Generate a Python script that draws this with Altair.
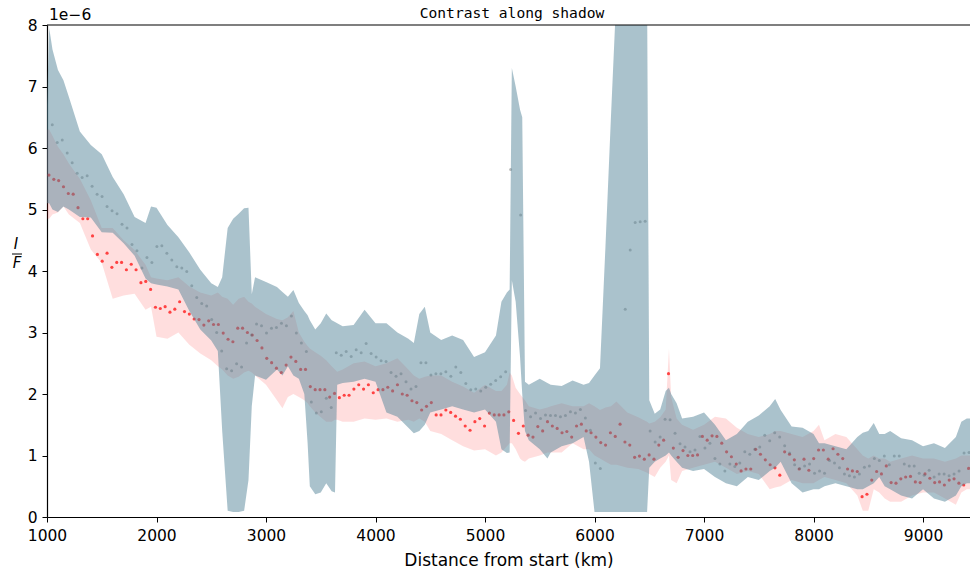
import altair as alt
import pandas as pd
import numpy as np

# ---- mean values (units of 1e-6) ----
red_mean = [5.56,5.49,5.47,5.37,5.26,5.25,5.03,4.85,4.85,4.57,4.27,4.16,4.29,4.06,4.14,4.14,4.02,4.11,4.02,3.81,3.83,3.70,3.41,3.39,3.42,3.33,3.38,3.50,3.34,3.30,3.22,3.21,3.12,
            3.19,3.13,3.13,2.99,2.89,2.85,3.07,3.07,3.00,2.96,2.87,2.75,2.58,2.51,2.42,2.35,2.47,2.60,2.53,2.40,2.40,2.12,2.07,2.07,2.07,1.95,2.01,1.94,1.98,1.98,2.08,2.15,
            2.08,2.15,2.02,2.07,2.07,2.11,2.05,2.15,2.00,1.98,1.89,1.86,1.74,1.80,1.86,1.66,1.66,1.74,1.70,1.64,1.59,1.48,1.41,1.55,1.60,1.48,1.69,1.66,1.66,1.66,1.71,1.57,
            1.36,1.48,1.33,1.30,1.47,1.40,1.55,1.48,1.44,1.37,1.39,1.30,1.48,1.51,1.40,1.37,1.30,1.21,1.17,1.37,1.31,1.51,1.22,1.17,0.97,0.99,0.94,1.01,0.94,1.17,1.25,2.33,
            1.12,0.97,1.08,1.00,1.00,1.01,1.31,1.25,1.32,1.31,1.20,1.06,0.98,0.86,0.75,0.78,0.78,1.10,1.02,0.93,0.85,0.80,0.68,1.06,1.02,0.93,0.78,0.94,0.76,0.95,1.09,1.09,
            0.94,1.11,1.02,0.95,0.78,0.75,0.74,0.33,0.37,0.60,0.74,0.70,0.83,0.56,0.55,0.62,0.65,0.66,0.57,0.56,0.70,0.63,0.56,0.57,0.52,0.60,0.62,0.55,0.52,0.79]

grey_mean = [6.38,6.09,6.13,5.92,5.76,5.59,5.52,5.55,5.38,5.25,5.21,5.05,4.98,4.93,4.76,4.70,4.43,4.33,4.05,4.22,4.14,4.40,4.41,4.29,4.18,4.07,4.05,3.99,3.76,3.57,3.47,
             3.43,3.21,3.00,2.70,2.41,2.38,2.49,2.44,2.83,2.96,3.14,3.11,2.99,3.07,3.08,3.15,3.11,3.27,2.99,2.83,2.69,1.87,1.69,1.71,1.93,1.78,2.67,2.63,2.69,2.61,2.72,
             2.67,2.82,2.66,2.60,2.54,2.53,2.35,2.29,2.33,2.20,2.08,2.12,2.51,2.51,2.31,2.33,2.33,2.36,2.29,2.44,2.35,2.17,2.07,2.08,2.05,2.11,2.16,2.22,2.28,2.36,5.65,
             None,4.91,1.73,1.63,1.69,1.60,1.66,1.65,1.65,1.63,1.65,1.71,1.69,1.75,1.61,1.41,0.88,0.79,None,None,None,None,3.38,4.34,4.79,4.80,4.81,1.40,1.22,1.30,1.59,
             1.58,1.36,1.19,1.14,1.06,1.09,1.31,1.12,1.20,0.95,0.86,0.75,0.86,0.82,0.88,1.06,1.02,1.10,1.14,1.33,1.24,1.37,1.30,1.16,1.04,0.85,0.79,0.83,0.86,0.71,0.75,
             0.71,0.92,0.88,0.80,0.70,0.67,0.65,0.70,0.81,0.83,0.95,0.92,0.99,0.85,0.99,0.99,0.86,0.83,0.83,0.71,0.68,0.76,0.65,0.70,0.70,0.67,0.70,0.75,1.04,1.05]

# ---- band boundaries ----
band_x = [1000,1020,1050,1100,1150,1200,1300,1400,1500,1600,1700,1800,1900,1950,2000,2100,2200,2300,2400,2500,2560,2600,2650,2700,2750,2800,2840,2870,2900,
          3000,3100,3150,3200,3250,3300,3350,3380,3400,3450,3500,3550,3600,3630,3650,3700,3800,3900,4000,4100,4200,4300,4350,4400,4450,4500,4600,4700,4800,4900,
          5000,5100,5150,5200,5225,5245,5280,5320,5340,5365,5400,5500,5570,5600,5700,5800,5900,5950,6000,6050,6100,6150,6200,6300,6400,6480,6500,6550,6600,6650,
          6680,6700,6750,6800,6900,7000,7100,7200,7300,7400,7500,7600,7650,7700,7800,7900,8000,8050,8100,8200,8300,8400,8450,8500,8550,8600,8650,8700,8800,8900,
          9000,9100,9200,9300,9350,9400,9430]
blue_lo = [5.10,5.10,5.00,4.96,5.05,5.00,4.88,4.87,4.63,4.62,4.45,4.25,3.88,3.80,3.78,3.75,3.70,3.35,3.05,2.87,2.70,1.40,0.10,0.08,0.08,0.10,0.60,1.80,2.30,
           2.23,2.40,2.30,2.45,2.30,2.25,2.00,1.20,0.50,0.37,0.40,0.55,0.42,0.40,2.15,2.18,2.20,2.25,2.20,1.70,1.63,1.45,1.36,1.40,1.50,1.70,1.75,1.80,1.75,1.70,
           1.75,1.55,1.10,1.04,1.05,3.85,3.50,2.60,2.00,1.40,1.25,1.10,0.95,1.05,1.15,1.20,1.30,0.90,0.08,0.08,0.08,0.08,0.08,0.08,0.08,0.08,0.80,0.90,0.95,1.00,
           1.05,1.00,0.90,0.80,0.75,0.78,0.65,0.55,0.50,0.65,0.60,0.75,0.80,0.90,0.55,0.40,0.45,0.45,0.50,0.55,0.50,0.45,0.45,0.50,0.55,0.65,0.50,0.45,0.35,0.30,
           0.45,0.30,0.25,0.35,0.50,0.55,0.55]
blue_hi = [6.70,7.95,7.60,7.27,7.10,6.83,6.27,6.05,5.90,5.53,5.25,4.88,4.78,5.05,5.03,4.75,4.55,4.30,4.02,3.80,3.74,3.90,4.70,4.85,4.93,5.02,5.03,3.62,3.90,
           3.82,3.74,3.66,3.58,3.69,3.48,3.35,3.28,3.20,3.05,3.15,3.31,3.20,3.17,3.15,3.10,3.12,3.37,3.15,3.15,3.00,2.90,2.83,3.30,3.42,3.00,2.88,2.95,2.88,2.60,
           2.68,2.95,3.50,3.65,3.70,7.30,7.00,6.62,6.50,2.20,2.15,2.25,2.18,2.15,2.13,2.22,2.15,2.18,2.30,2.42,4.40,6.50,8.50,8.50,8.50,8.50,1.90,1.68,1.75,2.05,
           2.10,2.00,1.85,1.60,1.63,1.70,1.50,1.25,1.35,1.55,1.65,1.80,1.92,1.74,1.47,1.45,1.35,1.20,1.20,1.15,1.10,1.30,1.37,1.40,1.53,1.35,1.35,1.40,1.28,1.25,
           1.15,1.20,1.12,1.30,1.55,1.60,1.60]
red_lo = [4.85,4.85,4.92,4.95,5.05,4.92,4.78,4.35,4.13,3.55,3.60,3.63,3.37,3.42,2.93,2.90,3.00,2.80,2.66,2.55,2.45,2.40,2.30,2.25,2.28,2.35,2.38,2.35,2.30,
          2.15,1.90,1.77,1.95,2.00,1.95,1.90,1.85,1.80,1.70,1.62,1.55,1.55,1.58,1.58,1.55,1.55,1.60,1.58,1.60,1.55,1.58,1.55,1.60,1.55,1.40,1.35,1.25,1.15,1.08,
          1.10,1.00,1.05,1.15,1.20,1.20,1.10,0.95,0.92,0.90,0.95,1.00,1.05,1.05,1.05,1.20,1.10,1.10,1.00,0.95,0.90,0.85,0.85,0.80,0.78,0.72,0.70,0.65,0.80,0.90,
          1.00,0.60,0.55,0.75,0.80,0.85,0.90,0.80,0.70,0.75,0.70,0.45,0.48,0.50,0.60,0.55,0.55,0.60,0.65,0.60,0.55,0.35,0.10,0.10,0.45,0.40,0.30,0.25,0.25,0.35,
          0.40,0.40,0.30,0.20,0.40,0.45,0.45]
red_hi = [6.30,6.30,6.20,6.02,5.90,5.75,5.50,5.15,4.70,4.70,4.50,4.34,4.10,3.90,3.88,3.85,3.90,3.75,3.65,3.60,3.65,3.58,3.55,3.45,3.55,3.58,3.50,3.47,3.42,
          3.30,3.22,3.20,3.25,3.35,3.00,2.85,2.78,2.74,2.68,2.62,2.55,2.45,2.40,2.36,2.40,2.50,2.53,2.45,2.50,2.58,2.40,2.30,2.25,2.28,2.30,2.30,2.20,2.12,2.02,
          2.15,2.05,2.05,2.15,2.35,2.30,2.10,2.00,1.95,1.90,1.80,1.75,1.78,1.80,1.85,1.80,1.80,1.85,1.80,1.74,1.78,1.80,1.88,1.70,1.62,1.55,1.52,1.55,1.62,1.75,
          2.74,1.95,1.60,1.50,1.42,1.50,1.63,1.60,1.45,1.35,1.30,1.35,1.40,1.40,1.35,1.30,1.40,1.50,1.25,1.35,1.30,1.10,1.00,0.95,1.00,0.95,0.95,0.90,0.95,1.00,
          0.95,0.95,0.90,0.95,1.00,1.00,1.00]

x_ticks = [1000,2000,3000,4000,5000,6000,7000,8000,9000]
y_ticks = [0,1,2,3,4,5,6,7,8]

red_df = pd.DataFrame({"x": np.linspace(1018, 9416, len(red_mean)), "y": red_mean})
grey_df = pd.DataFrame({"x": np.linspace(1048, 9420, len(grey_mean)), "y": grey_mean})
band_df = pd.DataFrame({"x": band_x, "blo": blue_lo, "bhi": blue_hi, "rlo": red_lo, "rhi": red_hi})
one = pd.DataFrame({"k": [0]})

W, H = 923, 492
FONT = "DejaVu Sans"
xs = alt.Scale(domain=[1000, 9429], nice=False, zero=False)
ys = alt.Scale(domain=[0, 8], nice=False, zero=False)

xax = alt.Axis(values=x_ticks, format="d", title="Distance from start (km)", grid=False,
               labelFont=FONT, labelFontSize=15.5, labelColor="#000", labelFlush=False,
               labelOverlap=False, titleFont=FONT,
               titleFontSize=17, titleFontWeight="normal", titleColor="#000", tickColor="#000",
               tickSize=5, tickWidth=1, domainColor="#000", domainWidth=1.2, labelPadding=6,
               titlePadding=9)
yax = alt.Axis(values=y_ticks, format="d", title=None, grid=False, labelFont=FONT,
               labelFontSize=15.5, labelColor="#000", labelFlush=False, labelOverlap=False,
               tickColor="#000", tickSize=5, tickWidth=1,
               domainColor="#000", domainWidth=1.2, labelPadding=5)

base = alt.Chart(band_df)
red_band = base.mark_area(color="#ff0000", opacity=0.13, clip=True).encode(
    x=alt.X("x:Q", scale=xs, axis=xax), y=alt.Y("rlo:Q", scale=ys, axis=yax), y2="rhi:Q")
red_pts = alt.Chart(red_df).mark_circle(color="#ff0000", opacity=0.7, size=10, clip=True).encode(
    x=alt.X("x:Q", scale=xs), y=alt.Y("y:Q", scale=ys))
grey_pts = alt.Chart(grey_df).mark_circle(color="#555555", opacity=0.4, size=9, clip=True).encode(
    x=alt.X("x:Q", scale=xs), y=alt.Y("y:Q", scale=ys))
blue_band = base.mark_area(color="#558599", opacity=0.5, clip=True).encode(
    x=alt.X("x:Q", scale=xs), y=alt.Y("blo:Q", scale=ys), y2="bhi:Q")

top_rule = alt.Chart(one).mark_rule(color="#000", strokeWidth=1.2).encode(
    x=alt.value(0), x2=alt.value(W + 5), y=alt.value(0))

title_txt = alt.Chart(one).mark_text(text="Contrast along shadow", font="DejaVu Sans Mono",
    fontSize=14.6, color="#000", align="center", baseline="alphabetic").encode(
    x=alt.value(465), y=alt.value(-7))
offset_txt = alt.Chart(one).mark_text(text="1e\u22126", font=FONT, fontSize=15.5, color="#000",
    align="left", baseline="alphabetic").encode(x=alt.value(2), y=alt.value(-5))
i_txt = alt.Chart(one).mark_text(text="I", font=FONT, fontStyle="italic", fontSize=15,
    color="#000", align="center", baseline="alphabetic").encode(x=alt.value(-31), y=alt.value(224))
f_txt = alt.Chart(one).mark_text(text="F", font=FONT, fontStyle="italic", fontSize=15,
    color="#000", align="center", baseline="alphabetic").encode(x=alt.value(-30), y=alt.value(243))
frac = alt.Chart(one).mark_rule(color="#000", strokeWidth=1).encode(
    x=alt.value(-35), x2=alt.value(-25), y=alt.value(229))

chart = alt.layer(red_band, red_pts, grey_pts, blue_band, top_rule, title_txt, offset_txt,
                  i_txt, f_txt, frac).properties(
    width=W, height=H, autosize=alt.AutoSizeParams(type="none"),
    padding={"left": 47, "top": 25, "right": 0, "bottom": 56}
).configure_view(stroke=None)

chart.save("out.html", embed_options={"renderer": "svg", "actions": False})
